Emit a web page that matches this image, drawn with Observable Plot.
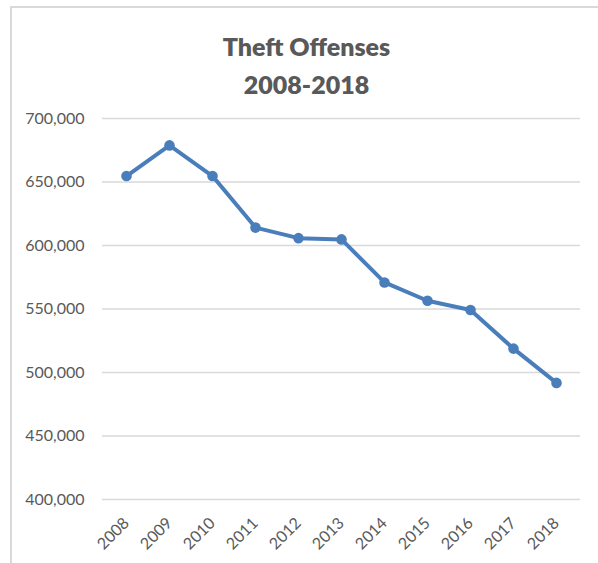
<!DOCTYPE html>
<html>
<head>
<meta charset="utf-8">
<script src="https://cdn.jsdelivr.net/npm/d3@7"></script>
<script src="https://cdn.jsdelivr.net/npm/@observablehq/plot@0.6"></script>
<style>
  html, body { margin: 0; padding: 0; background: #fff; overflow: hidden; width: 598px; height: 563px; }
  #frame { position: absolute; left: 10px; top: 6px; width: 700px; height: 700px; border-top: 2px solid #d9d9d9; border-left: 2px solid #d9d9d9; }
  #title { position: absolute; left: 0; top: 0; width: 613px; padding-top: 27px; text-align: center;
           font-family: Lato, "Open Sans", sans-serif; font-weight: 800; font-size: 25px; line-height: 38px; color: #595959; }
  #chart { position: absolute; left: 0; top: 100px; }
</style>
</head>
<body>
<div id="frame"></div>
<div id="title"><div>Theft Offenses</div><div>2008-2018</div></div>
<div id="chart"></div>
<script>
const years = ["2008","2009","2010","2011","2012","2013","2014","2015","2016","2017","2018"];
const offenses = [654700, 678800, 654700, 614100, 605800, 604800, 570900, 556500, 549200, 518800, 491800];
const yTicks = [400000, 450000, 500000, 550000, 600000, 650000, 700000];

const data = years.map((y, i) => ({year: y, value: offenses[i]}));

const chart = Plot.plot({
  width: 598,
  height: 463,
  marginLeft: 102,
  marginRight: 18,
  marginTop: 18,
  marginBottom: 64,
  style: {fontFamily: "Lato, 'Open Sans', sans-serif", fontSize: "16px", color: "#595959", background: "transparent"},
  x: {type: "point", domain: years, padding: 0.5},
  y: {domain: [400000, 700000]},
  marks: [
    Plot.gridY(yTicks, {stroke: "#d9d9d9", strokeOpacity: 1, strokeWidth: 1.5}),
    Plot.axisY(yTicks, {tickSize: 0, tickPadding: 18, tickFormat: d3.format(","), fontSize: 16, fill: "#595959", label: null}),
    Plot.axisX(years, {tickSize: 0, tickPadding: 21, tickRotate: -45, fontSize: 16, fill: "#595959", label: null}),
    Plot.line(data, {x: "year", y: "value", stroke: "#4a7ebb", strokeWidth: 4, strokeLinejoin: "round", strokeLinecap: "round"}),
    Plot.dot(data, {x: "year", y: "value", fill: "#4a7ebb", r: 5.3})
  ]
});
document.getElementById("chart").appendChild(chart);
</script>
</body>
</html>
